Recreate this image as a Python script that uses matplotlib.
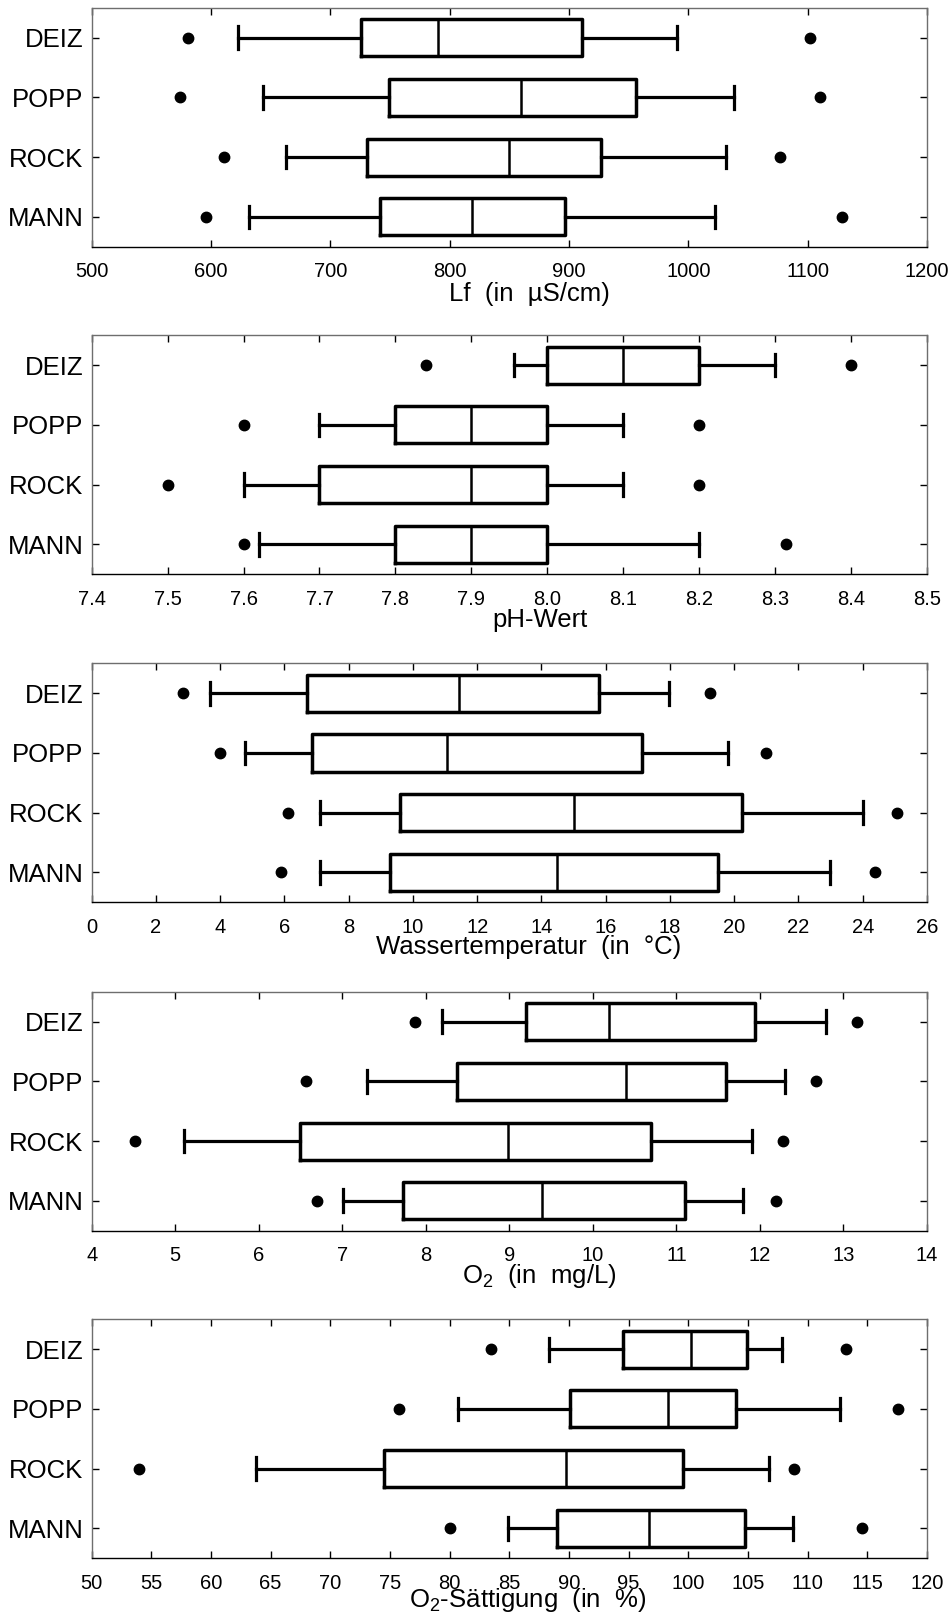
import matplotlib
matplotlib.use('Agg')
import matplotlib.pyplot as plt

plt.rcParams['font.family'] = ['Liberation Sans', 'DejaVu Sans']
plt.rcParams['mathtext.fontset'] = 'custom'
plt.rcParams['mathtext.rm'] = 'Liberation Sans'
plt.rcParams['mathtext.it'] = 'Liberation Sans:italic'

sites = ['DEIZ', 'POPP', 'ROCK', 'MANN']

# per site: whislo, q1, median, q3, whishi ; fliers low/high
lf_box = [[622.6, 725.3, 790.0, 910.5, 990.3],
          [643.4, 749.2, 860.1, 956.3, 1038.1],
          [662.8, 730.4, 849.4, 926.8, 1031.5],
          [631.7, 741.6, 818.4, 896.7, 1022.4]]
lf_fliers = [[580.9, 1101.7], [574.3, 1110.4], [610.9, 1076.8], [595.6, 1128.7]]

ph_box = [[7.956, 8.0, 8.1, 8.2, 8.3],
          [7.7, 7.8, 7.9, 8.0, 8.1],
          [7.6, 7.7, 7.9, 8.0, 8.1],
          [7.621, 7.8, 7.9, 8.0, 8.2]]
ph_fliers = [[7.84, 8.4], [7.6, 8.2], [7.5, 8.2], [7.6, 8.314]]

temp_box = [[3.68, 6.69, 11.43, 15.8, 17.97],
            [4.78, 6.86, 11.07, 17.12, 19.8],
            [7.1, 9.6, 15.0, 20.24, 24.02],
            [7.1, 9.28, 14.49, 19.5, 22.98]]
temp_fliers = [[2.85, 19.24], [4.0, 21.0], [6.1, 25.06], [5.88, 24.38]]

o2_box = [[8.19, 9.2, 10.19, 11.94, 12.79],
          [7.3, 8.37, 10.4, 11.6, 12.3],
          [5.1, 6.49, 8.99, 10.7, 11.9],
          [7.01, 7.73, 9.39, 11.1, 11.8]]
o2_fliers = [[7.87, 13.16], [6.57, 12.67], [4.52, 12.28], [6.7, 12.19]]

sat_box = [[88.36, 94.51, 100.2, 104.94, 107.84],
           [80.73, 90.09, 98.33, 103.98, 112.73],
           [63.74, 74.52, 89.78, 99.55, 106.77],
           [84.9, 89.02, 96.7, 104.74, 108.81]]
sat_fliers = [[83.47, 113.18], [75.79, 117.56], [53.97, 108.86], [80.07, 114.56]]

panels = [
    (lf_box, lf_fliers, (500, 1200), list(range(500, 1201, 100)), None, 'Lf  (in  µS/cm)', 0.5235, -0.225),
    (ph_box, ph_fliers, (7.4, 8.5), [7.4, 7.5, 7.6, 7.7, 7.8, 7.9, 8.0, 8.1, 8.2, 8.3, 8.4, 8.5], '%.1f', 'pH-Wert', 0.537, -0.22),
    (temp_box, temp_fliers, (0, 26), list(range(0, 27, 2)), None, 'Wassertemperatur  (in  °C)', 0.5235, -0.215),
    (o2_box, o2_fliers, (4, 14), list(range(4, 15)), None, r'O$_\mathregular{2}$  (in  mg/L)', 0.5355, -0.218),
    (sat_box, sat_fliers, (50, 120), list(range(50, 121, 5)), None, r'O$_\mathregular{2}$-Sättigung  (in  %)', 0.522, -0.205),
]

fig = plt.figure(figsize=(9.52, 16.18), dpi=100)
bottoms = [0.8475, 0.6451, 0.4423, 0.2394, 0.0369]
positions = [4, 3, 2, 1]

for (box, fl, xlim, ticks, fmt, label, lx, ly), b in zip(panels, bottoms):
    ax = fig.add_axes([0.0963, b, 0.8774, 0.1477])
    stats = []
    for s, v, f in zip(sites, box, fl):
        stats.append(dict(label=s, whislo=v[0], q1=v[1], med=v[2], q3=v[3], whishi=v[4], fliers=f))
    ax.bxp(stats, positions=positions, orientation='horizontal', widths=0.62, capwidths=0.38,
           boxprops=dict(color='black', linewidth=2.5),
           whiskerprops=dict(color='black', linewidth=2.3),
           capprops=dict(color='black', linewidth=2.3),
           medianprops=dict(color='black', linewidth=1.8),
           flierprops=dict(marker='o', markerfacecolor='black', markeredgecolor='black', markersize=7.5))
    ax.set_xlim(*xlim)
    ax.set_ylim(0.5, 4.5)
    ax.set_xticks(ticks)
    if fmt:
        ax.set_xticklabels([fmt % t for t in ticks])
    ax.set_yticks(positions)
    ax.set_yticklabels(sites)
    ax.tick_params(axis='x', direction='in', top=True, length=5, width=1, labelsize=14.5, pad=11)
    ax.tick_params(axis='y', direction='in', right=True, length=5, width=1, labelsize=18.5, pad=6)
    for sp in ['left', 'top', 'right']:
        ax.spines[sp].set_color('#6e6e6e')
    ax.spines['bottom'].set_color('black')
    for sp in ax.spines.values():
        sp.set_linewidth(1.0)
    ax.set_xlabel(label, fontsize=18.5)
    ax.xaxis.set_label_coords(lx, ly)
    ax.xaxis.label.set_va('baseline')

plt.savefig('out.png', dpi=100)
